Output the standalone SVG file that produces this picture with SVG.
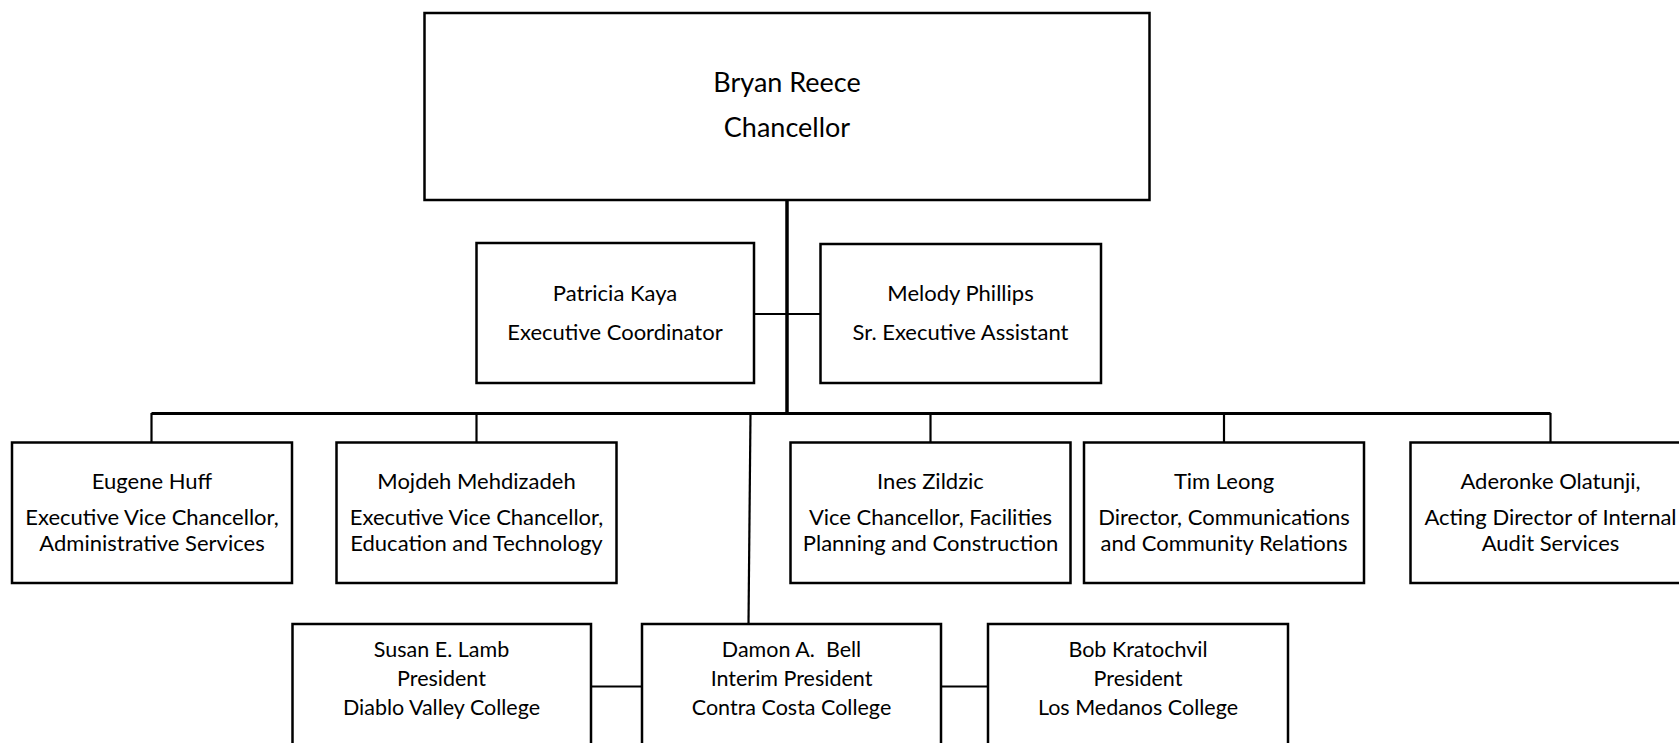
<svg xmlns="http://www.w3.org/2000/svg" width="1679" height="743" viewBox="0 0 1679 743">
<style>
.box{fill:#fff;stroke:#000;stroke-width:2.5}
.ln{stroke:#000;stroke-width:2.2;fill:none}
.t{font-family:Lato,"Liberation Sans",sans-serif;text-anchor:middle;fill:#000}
.t1{font-size:27px}
.t2{font-size:22px}
.t3{font-size:22px}
.t4{font-size:21.5px}
</style>
<rect width="1679" height="743" fill="#fff"/>
<g id="connectors">
<line class="ln" x1="787" y1="200" x2="787" y2="414" style="stroke-width:3.5"/>
<line class="ln" x1="754" y1="314" x2="820" y2="314"/>
<line class="ln" x1="151.5" y1="413.5" x2="1550.5" y2="413.5" style="stroke-width:2.8"/>
<line class="ln" x1="151.5" y1="413" x2="151.5" y2="443"/>
<line class="ln" x1="476.5" y1="413" x2="476.5" y2="443"/>
<line class="ln" x1="930.5" y1="413" x2="930.5" y2="443"/>
<line class="ln" x1="1224" y1="413" x2="1224" y2="443"/>
<line class="ln" x1="1550.5" y1="413" x2="1550.5" y2="443"/>
<line class="ln" x1="750.5" y1="413" x2="748.5" y2="624"/>
<line class="ln" x1="591" y1="686.5" x2="642" y2="686.5"/>
<line class="ln" x1="941" y1="686.5" x2="988" y2="686.5"/>
</g>
<g id="chancellor">
<rect class="box" x="424.5" y="13" width="725" height="187"/>
<text class="t t1" x="787" y="92">Bryan Reece</text>
<text class="t t1" x="787" y="137">Chancellor</text>
</g>
<g id="kaya">
<rect class="box" x="476.5" y="243" width="277.5" height="140"/>
<text class="t t2" x="615" y="301">Patricia Kaya</text>
<text class="t t2" x="615" y="340">Executive Coordinator</text>
</g>
<g id="phillips">
<rect class="box" x="820.5" y="244" width="280.5" height="139"/>
<text class="t t2" x="960.5" y="301">Melody Phillips</text>
<text class="t t2" x="960.5" y="340">Sr. Executive Assistant</text>
</g>
<g id="huff">
<rect class="box" x="12" y="442.5" width="280" height="140.5"/>
<text class="t t3" x="152" y="489">Eugene Huff</text>
<text class="t t3" x="152" y="525">Executive Vice Chancellor,</text>
<text class="t t3" x="152" y="551">Administrative Services</text>
</g>
<g id="mehdizadeh">
<rect class="box" x="336.5" y="442.5" width="280" height="140.5"/>
<text class="t t3" x="476.5" y="489">Mojdeh Mehdizadeh</text>
<text class="t t3" x="476.5" y="525">Executive Vice Chancellor,</text>
<text class="t t3" x="476.5" y="551">Education and Technology</text>
</g>
<g id="zildzic">
<rect class="box" x="790.5" y="442.5" width="280" height="140.5"/>
<text class="t t3" x="930.5" y="489">Ines Zildzic</text>
<text class="t t3" x="930.5" y="525">Vice Chancellor, Facilities</text>
<text class="t t3" x="930.5" y="551">Planning and Construction</text>
</g>
<g id="leong">
<rect class="box" x="1084" y="442.5" width="280" height="140.5"/>
<text class="t t3" x="1224" y="489">Tim Leong</text>
<text class="t t3" x="1224" y="525">Director, Communications</text>
<text class="t t3" x="1224" y="551">and Community Relations</text>
</g>
<g id="olatunji">
<rect class="box" x="1410.5" y="442.5" width="280" height="140.5"/>
<text class="t t3" x="1550.5" y="489">Aderonke Olatunji,</text>
<text class="t t3" x="1550.5" y="525">Acting Director of Internal</text>
<text class="t t3" x="1550.5" y="551">Audit Services</text>
</g>
<g id="lamb">
<rect class="box" x="292.5" y="624" width="298.5" height="140"/>
<text class="t t4" x="441.5" y="657">Susan E. Lamb</text>
<text class="t t4" x="441.5" y="686">President</text>
<text class="t t4" x="441.5" y="715">Diablo Valley College</text>
</g>
<g id="bell">
<rect class="box" x="642" y="624" width="299" height="140"/>
<text class="t t4" x="791.5" y="657" xml:space="preserve">Damon A.  Bell</text>
<text class="t t4" x="791.5" y="686">Interim President</text>
<text class="t t4" x="791.5" y="715">Contra Costa College</text>
</g>
<g id="kratochvil">
<rect class="box" x="988" y="624" width="300" height="140"/>
<text class="t t4" x="1138" y="657">Bob Kratochvil</text>
<text class="t t4" x="1138" y="686">President</text>
<text class="t t4" x="1138" y="715">Los Medanos College</text>
</g>
</svg>
